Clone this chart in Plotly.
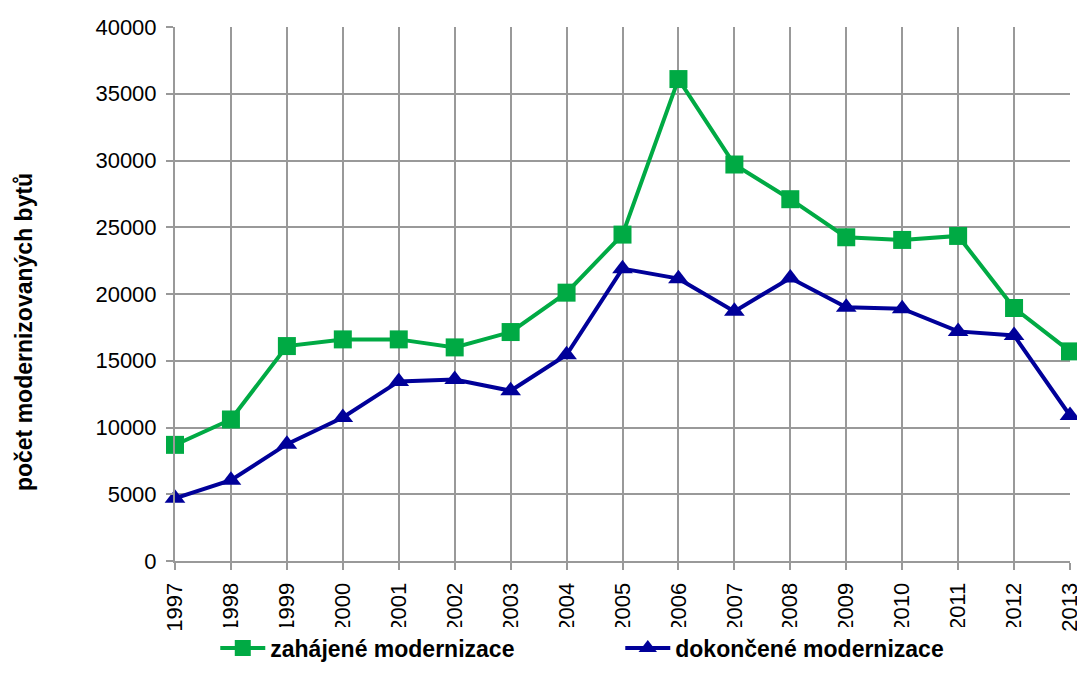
import plotly.graph_objects as go

years = list(range(1997, 2014))
zahajene = [8700, 10600, 16100, 16600, 16600, 16000, 17150, 20100, 24450, 36100,
            29700, 27100, 24250, 24050, 24350, 18950, 15700]
dokoncene = [4700, 6050, 8750, 10750, 13450, 13600, 12750, 15450, 21900, 21150,
             18700, 21200, 19000, 18900, 17200, 16900, 10900]

green = "#00AA44"
navy = "#000099"
FONT = "Liberation Sans, Arial, sans-serif"

fig = go.Figure()
fig.add_trace(go.Scatter(
    x=years, y=zahajene, mode="lines+markers", name="<b>zahájené modernizace</b>",
    line=dict(color=green, width=4),
    marker=dict(symbol="square", size=18, color=green),
    cliponaxis=False,
))
fig.add_trace(go.Scatter(
    x=years, y=dokoncene, mode="lines+markers", name="<b>dokončené modernizace</b>",
    line=dict(color=navy, width=4),
    marker=dict(symbol="triangle-up", size=18, color=navy),
    cliponaxis=False,
))

# page body adds an 8px offset; figure sized so plot area lands at x 175-1070, y 27-561
fig.update_layout(
    width=1077, height=683,
    margin=dict(l=167, r=15, t=19, b=130, autoexpand=False),
    paper_bgcolor="white", plot_bgcolor="white",
    font=dict(family=FONT, size=22, color="#000"),
    showlegend=True,
    legend=dict(orientation="h", x=0.045, xanchor="left", y=-0.163, yanchor="middle",
                font=dict(size=23, family=FONT),
                itemwidth=45, traceorder="normal", entrywidth=345),
    annotations=[dict(
        text="<b>počet modernizovaných bytů</b>", textangle=-90,
        xref="paper", yref="paper", x=-0.168, y=0.428,
        xanchor="center", yanchor="middle", showarrow=False,
        font=dict(size=23, family=FONT),
    )],
)
fig.update_xaxes(
    range=[1997, 2013], tickmode="array", tickvals=years,
    ticktext=[str(y) for y in years], tickangle=-90,
    showgrid=True, gridcolor="#999999", gridwidth=2,
    showline=True, linecolor="#999999", linewidth=2,
    ticks="outside", ticklen=7, tickcolor="#999999", tickwidth=2,
    ticklabelstandoff=4,
    zeroline=False, automargin=False,
)
fig.update_yaxes(
    range=[0, 40000], dtick=5000, tickformat="d",
    showgrid=True, gridcolor="#999999", gridwidth=2,
    showline=True, linecolor="#999999", linewidth=2,
    ticks="outside", ticklen=7, tickcolor="#999999", tickwidth=2,
    ticklabelstandoff=5,
    zeroline=False, automargin=False,
)

fig.write_html("out.html")
